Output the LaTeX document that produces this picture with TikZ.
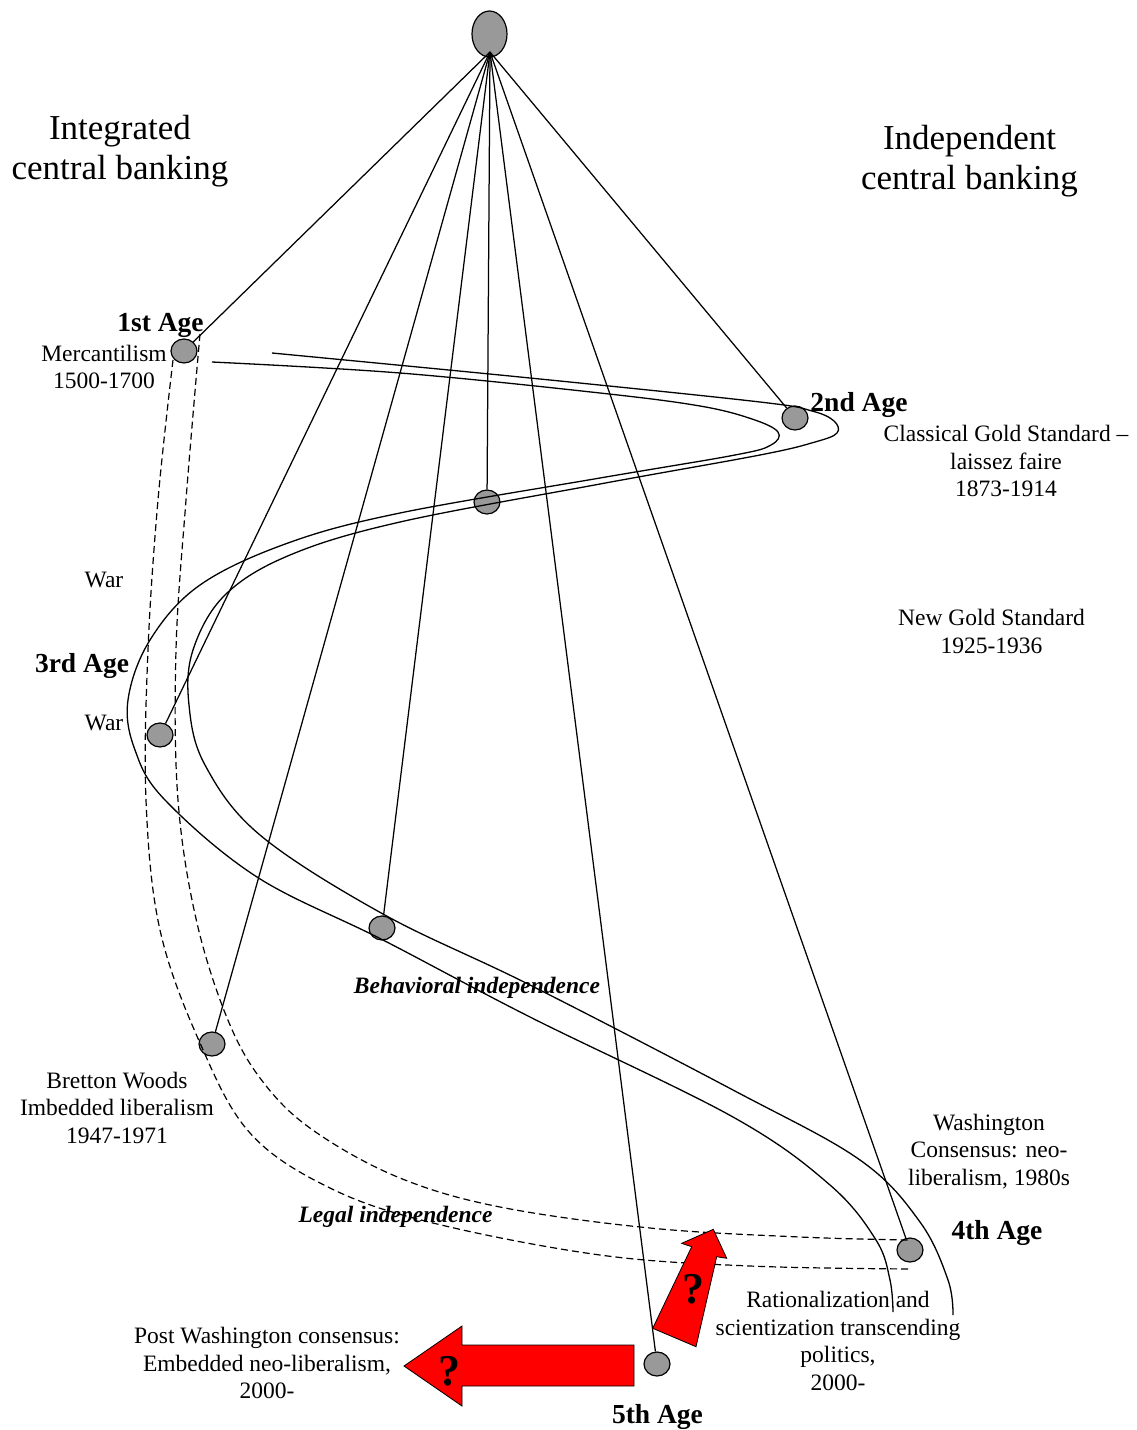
\documentclass[tikz,border=0pt]{standalone}
\usepackage{fontspec}
\setmainfont{Liberation Serif}
\usetikzlibrary{shapes.geometric}
\definecolor{nodegray}{RGB}{153,153,153}
\tikzset{
  agenode/.style={ellipse, draw=black, fill=nodegray, line width=1.2pt, minimum width=26pt, minimum height=24pt, inner sep=0pt},
  topnode/.style={ellipse, draw=black, fill=nodegray, line width=1.2pt, minimum width=35pt, minimum height=46pt, inner sep=0pt},
  spoke/.style={line width=1.25pt},
  wave/.style={line width=1.3pt},
  dashwave/.style={line width=1.2pt, dash pattern=on 7pt off 4pt},
  txt/.style={font=\fontsize{23.5}{27.5}\selectfont, align=center, inner sep=0pt},
  bigtitle/.style={font=\fontsize{35}{40}\selectfont, align=center, inner sep=0pt},
  agelabel/.style={font=\fontsize{27.5}{30}\selectfont\bfseries, inner sep=0pt, anchor=base},
  itlabel/.style={font=\fontsize{23.5}{27.5}\selectfont\bfseries\itshape, inner sep=0pt, anchor=base},
  redarrow/.style={fill=red, draw=black, line width=0.8pt, line join=miter},
  qmark/.style={font=\fontsize{44}{44}\selectfont\bfseries, inner sep=0pt, anchor=base},
}
\begin{document}
\begin{tikzpicture}[x=1pt,y=-1pt]
\useasboundingbox (0,0) rectangle (1136,1430);

% titles
\node[bigtitle] (tleft) at (120,151) {Integrated\\central banking};
\node[bigtitle] (tright) at (969.5,161) {Independent\\central banking};

% nodes
\node[topnode] (top) at (489.5,34) {};
\coordinate (apex) at (490,52);
\node[agenode] (n1) at (184,351) {};
\node[agenode] (n2) at (795,418) {};
\node[agenode] (nmid) at (487,502) {};
\node[agenode] (nwar) at (160,735) {};
\node[agenode] (nbeh) at (382,928) {};
\node[agenode] (nbw) at (212,1044) {};
\node[agenode] (n4) at (910,1250) {};
\node[agenode] (n5) at (657,1364) {};

% spokes
\foreach \t in {n1,n2,nmid,nwar,nbeh,nbw,n4,n5}
  \draw[spoke] (apex) -- (\t);

% solid S-curves
\draw[wave] plot[smooth, tension=0.6] coordinates {
 (272,353) (530,378) (760,402) (812,411) (834,421) (837,433) (815,442)
 (760,455) (600,484) (400,522) (290,555) (225,595) (193,650) (189,705)
 (205,765) (260,835) (383,914) (530,985) (733,1090) (860,1160) (920,1222)
 (948,1280) (953,1315)};
\draw[wave] plot[smooth, tension=0.6] coordinates {
 (212,362) (400,373) (600,393) (700,406) (752,419) (778,432) (771,445)
 (735,455) (600,478) (400,513) (288,543) (200,585) (150,640) (128,700)
 (135,750) (165,800) (257,877) (383,940) (530,1017) (733,1117) (830,1185)
 (876,1240) (890,1280) (893,1312)};

% dashed curves
\draw[dashwave] plot[smooth, tension=0.6] coordinates {
 (173,360) (158,500) (148,650) (146,800) (160,930) (200,1043) (250,1133)
 (330,1188) (433,1223) (600,1255) (750,1266) (912,1269)};
\draw[dashwave] plot[smooth, tension=0.6] coordinates {
 (200,334) (186,500) (176,650) (178,800) (197,923) (230,1025) (267,1087)
 (317,1133) (400,1178) (500,1207) (650,1228) (800,1237) (908,1240)};

% red arrows
\draw[redarrow] (404,1366) -- (462,1326) -- (462,1345) -- (634,1345) -- (634,1386)
  -- (462,1386) -- (462,1406) -- cycle;
\draw[redarrow] (652.7,1328.3) -- (691.7,1246.7) -- (681.7,1243.3) -- (713.3,1229.3)
  -- (726.7,1258.3) -- (716.7,1256.7) -- (696,1346.7) -- cycle;
\node[qmark] (q1) at (449.5,1385) {?};
\node[qmark] (q2) at (693.5,1303) {?};

% age labels
\node[agelabel] (a1) at (160.5,331) {1st Age};
\node[agelabel] (a2) at (859,411) {2nd Age};
\node[agelabel] (a3) at (82,672) {3rd Age};
\node[agelabel] (a4) at (997,1239) {4th Age};
\node[agelabel] (a5) at (657.5,1423) {5th Age};

% descriptive texts
\node[txt] (merc) at (104,367) {Mercantilism\\1500-1700};
\node[txt] (cgs) at (1006,461) {Classical Gold Standard –\\laissez faire\\1873-1914};
\node[txt, anchor=base] (war1) at (104,587) {War};
\node[txt, anchor=base] (war2) at (104,730) {War};
\node[txt] (ngs) at (991.5,631.5) {New Gold Standard\\1925-1936};
\node[itlabel] (beh) at (477,993) {Behavioral independence};
\node[txt] (bw) at (117,1107.5) {Bretton Woods\\Imbedded liberalism\\1947-1971};
\node[txt] (wc) at (989,1151.5) {Washington\\Consensus: neo-\\liberalism, 1980s};
\node[itlabel] (legal) at (395.5,1222) {Legal independence};
\node[txt] (rat) at (838,1341) {Rationalization and\\scientization transcending\\politics,\\2000-};
\node[txt] (pwc) at (267,1363) {Post Washington consensus:\\Embedded neo-liberalism,\\2000-};
\end{tikzpicture}
\end{document}
